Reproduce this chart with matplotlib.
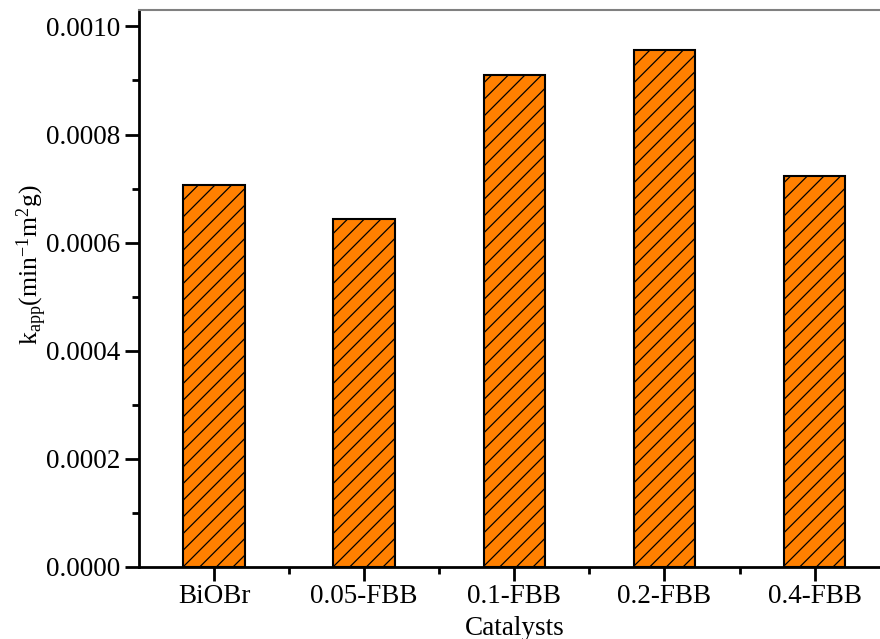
import matplotlib
matplotlib.use("Agg")
import matplotlib.pyplot as plt
from matplotlib.ticker import MultipleLocator, FixedLocator

plt.rcParams['font.family'] = ['Liberation Serif', 'DejaVu Serif']
plt.rcParams['mathtext.fontset'] = 'custom'
plt.rcParams['mathtext.rm'] = 'Liberation Serif'
plt.rcParams['mathtext.it'] = 'Liberation Serif'
plt.rcParams['hatch.linewidth'] = 0.9

catalysts = ["BiOBr", "0.05-FBB", "0.1-FBB", "0.2-FBB", "0.4-FBB"]
k_app = [0.000707, 0.000643, 0.000911, 0.000956, 0.000724]

fig = plt.figure(figsize=(8.8, 6.39), dpi=100)
ax = fig.add_axes([0.158, 0.1127, 0.853, 0.8713])

x = list(range(len(catalysts)))
ax.bar(x, k_app, width=0.41, color='#FF8000', edgecolor='black',
       linewidth=1.5, hatch='//')

ax.set_xlim(-0.5, 4.5)
ax.set_ylim(0, 0.00103)
ax.set_xticks(x)
ax.set_xticklabels(catalysts)
ax.xaxis.set_minor_locator(FixedLocator([0.5, 1.5, 2.5, 3.5]))
ax.yaxis.set_major_locator(MultipleLocator(0.0002))
ax.yaxis.set_minor_locator(MultipleLocator(0.0001))
ax.yaxis.set_major_formatter(plt.FormatStrFormatter('%.4f'))

ax.tick_params(axis='both', which='major', direction='out', length=10,
               width=2, labelsize=19.5)
ax.tick_params(axis='both', which='minor', direction='out', length=5, width=2)
ax.tick_params(axis='x', which='major', pad=2)

ax.spines['left'].set_linewidth(2)
ax.spines['bottom'].set_linewidth(2)
ax.spines['top'].set_linewidth(1.5)
ax.spines['top'].set_color('#808080')
ax.spines['right'].set_visible(False)

ax.set_xlabel('Catalysts', fontsize=19.5, labelpad=5)
ax.set_ylabel(r'k$_{\mathrm{app}}$(min$^{\mathrm{-1}}$m$^{\mathrm{2}}$g)', fontsize=18.5)
ax.yaxis.set_label_coords(-0.12, 0.542)

fig.savefig("out.png", dpi=100)
